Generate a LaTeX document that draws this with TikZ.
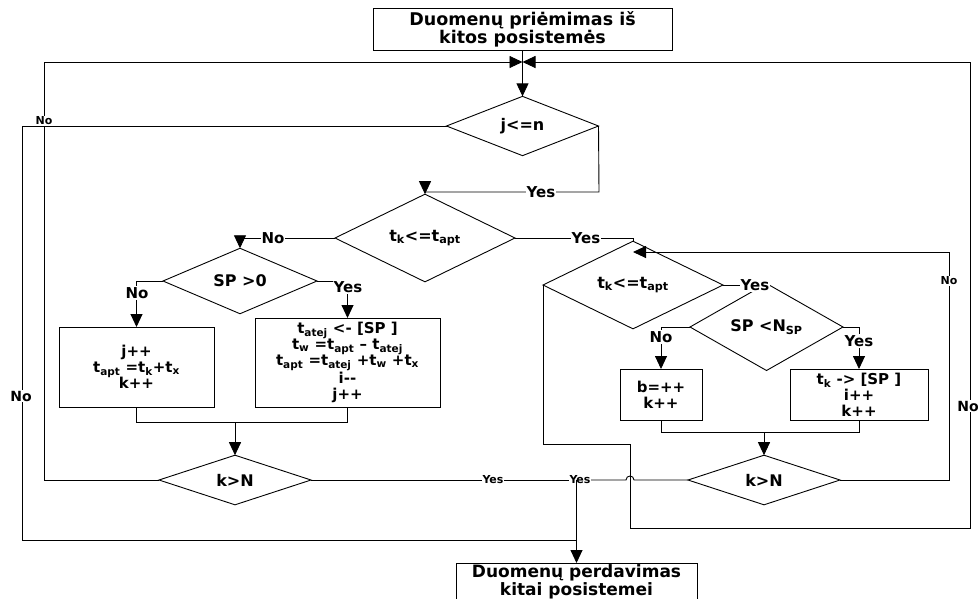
\documentclass[tikz,border=0pt]{standalone}
\usepackage{fontspec}
\setmainfont{DejaVu Sans}
\usetikzlibrary{shapes.geometric,arrows.meta}
\newcommand\ssb[1]{\textsubscript{#1}}
\begin{document}
\begin{tikzpicture}[x=1pt,y=-1pt,
  line width=0.9pt,
  box/.style={draw, rectangle, inner sep=0pt, outer sep=0pt, align=center, font=\fontsize{15}{16}\selectfont\bfseries},
  title/.style={box, font=\fontsize{17.5}{18}\selectfont\bfseries},
  dec/.style={draw, diamond, aspect=1, inner sep=0pt, outer sep=0pt, font=\fontsize{16}{18}\selectfont\bfseries},
  lbl/.style={fill=white, inner sep=1pt, font=\fontsize{15}{15}\selectfont\bfseries},
  slbl/.style={fill=white, inner sep=1pt, font=\fontsize{11}{11}\selectfont\bfseries},
  arr/.style={-{Triangle[length=13pt,width=12pt]}},
]
\useasboundingbox (0,0) rectangle (979,598);
\clip (0,0) rectangle (979,598);

% nodes
\node[title, minimum width=299pt, minimum height=42pt] (start) at (522.5,29) {Duomenų priėmimas iš\\kitos posistemės};
\node[dec, minimum width=152pt, minimum height=58pt] (dj) at (522.5,126) {j<=n};
\node[dec, minimum width=180pt, minimum height=50pt] (dt1) at (425,238) {t\ssb{k}<=t\ssb{apt}};
\node[dec, minimum width=154pt, minimum height=46pt] (dsp1) at (240,281) {SP >0};
\node[box, minimum width=155pt, minimum height=80pt] (b1) at (136.5,367) {j++\\t\ssb{apt} =t\ssb{k}+t\ssb{x}\\k++};
\node[box, minimum width=185pt, minimum height=89pt] (b2) at (347.5,362.5) {t\ssb{atej} <- [SP ]\\t\ssb{w} =t\ssb{apt} – t\ssb{atej}\\t\ssb{apt} =t\ssb{atej} +t\ssb{w} +t\ssb{x}\\i-{}-\\j++};
\node[dec, minimum width=152pt, minimum height=46pt] (dk1) at (235,480) {k>N};
\node[dec, minimum width=180pt, minimum height=55pt] (dt2) at (633,285) {t\ssb{k}<=t\ssb{apt}};
\node[dec, minimum width=153pt, minimum height=45pt] (dsp2) at (766.5,327) {SP <N\ssb{SP}};
\node[box, minimum width=82pt, minimum height=51pt] (b3) at (661,394.5) {b=++\\k++};
\node[box, minimum width=138pt, minimum height=51pt] (b4) at (859,394.5) {t\ssb{k} -> [SP ]\\i++\\k++};
\node[dec, minimum width=152pt, minimum height=46pt] (dk2) at (764,480) {k>N};
\node[draw, rectangle, inner sep=0pt, outer sep=0pt, minimum width=241pt, minimum height=50pt] (end) at (576.5,588) {};
\node[font=\fontsize{17}{16}\selectfont\bfseries, align=center, inner sep=0pt] (endtxt) at (576.5,582) {Duomenų perdavimas\\kitai posistemei};

% junction coordinates
\coordinate (jn) at (522.5,62);
\coordinate (jn2) at (633,252);
\coordinate (m1) at (235,422);
\coordinate (m2) at (764,432);
\coordinate (jy) at (576.5,480);

% connectors
\draw[arr] (start.south) -- (dj.north);
\draw[arr] (dk1.west) -- (44,480) -- (44,62) -- (jn);
\draw[arr] (dt2.west) -- (543,444) -- (630,444) -- (630,528) -- (970,528) -- (970,62) -- (jn);
\draw (dj.west) -- (22,126) -- (22,540) -- (576.5,540);
\draw[arr] (dj.east) -- (599,192) -| (dt1.north);
\draw[arr] (dt1.west) -| (dsp1.north);
\draw[arr] (dsp1.west) -| (b1.north);
\draw[arr] (dsp1.east) -| (b2.north);
\draw (b1.south) -- (136.5,422) -- (347.5,422) -- (b2.south);
\draw[arr] (m1) -- (dk1.north);
\draw (dk1.east) -- (jy);
\draw (dt1.east) -| (dt2.north);
\draw[arr] (dk2.east) -- (949,480) -- (949,252) -- (jn2);
\draw (dt2.east) -| (dsp2.north);
\draw[arr] (dsp2.west) -| (b3.north);
\draw[arr] (dsp2.east) -| (b4.north);
\draw (b3.south) -- (661,432) -- (859,432) -- (b4.south);
\draw[arr] (m2) -- (dk2.north);
\draw (dk2.west) -- (634,480) .. controls (634,474.7) and (626,474.7) .. (626,480) -- (jy);

% labels
\node[slbl] (l1) at (44,121) {No};
\node[lbl, font=\fontsize{14}{14}\selectfont\bfseries] (l2) at (21,396) {No};
\node[lbl] (l3) at (541,192) {Yes};
\node[lbl] (l4) at (273,238) {No};
\node[lbl] (l5) at (137,293) {No};
\node[lbl] (l6) at (348,287) {Yes};
\node[slbl] (l7) at (493,480) {Yes};
\node[slbl] (l8) at (580,480) {Yes};
\node[lbl] (l9) at (586,238) {Yes};
\node[lbl] (l10) at (755,285) {Yes};
\node[lbl] (l11) at (661,337) {No};
\node[lbl] (l12) at (859,341) {Yes};
\node[slbl] (l13) at (949,281) {No};
\node[lbl, font=\fontsize{14}{14}\selectfont\bfseries] (l14) at (968,406) {No};

\draw[arr] (jy) -- (end.north);
\end{tikzpicture}
\end{document}
